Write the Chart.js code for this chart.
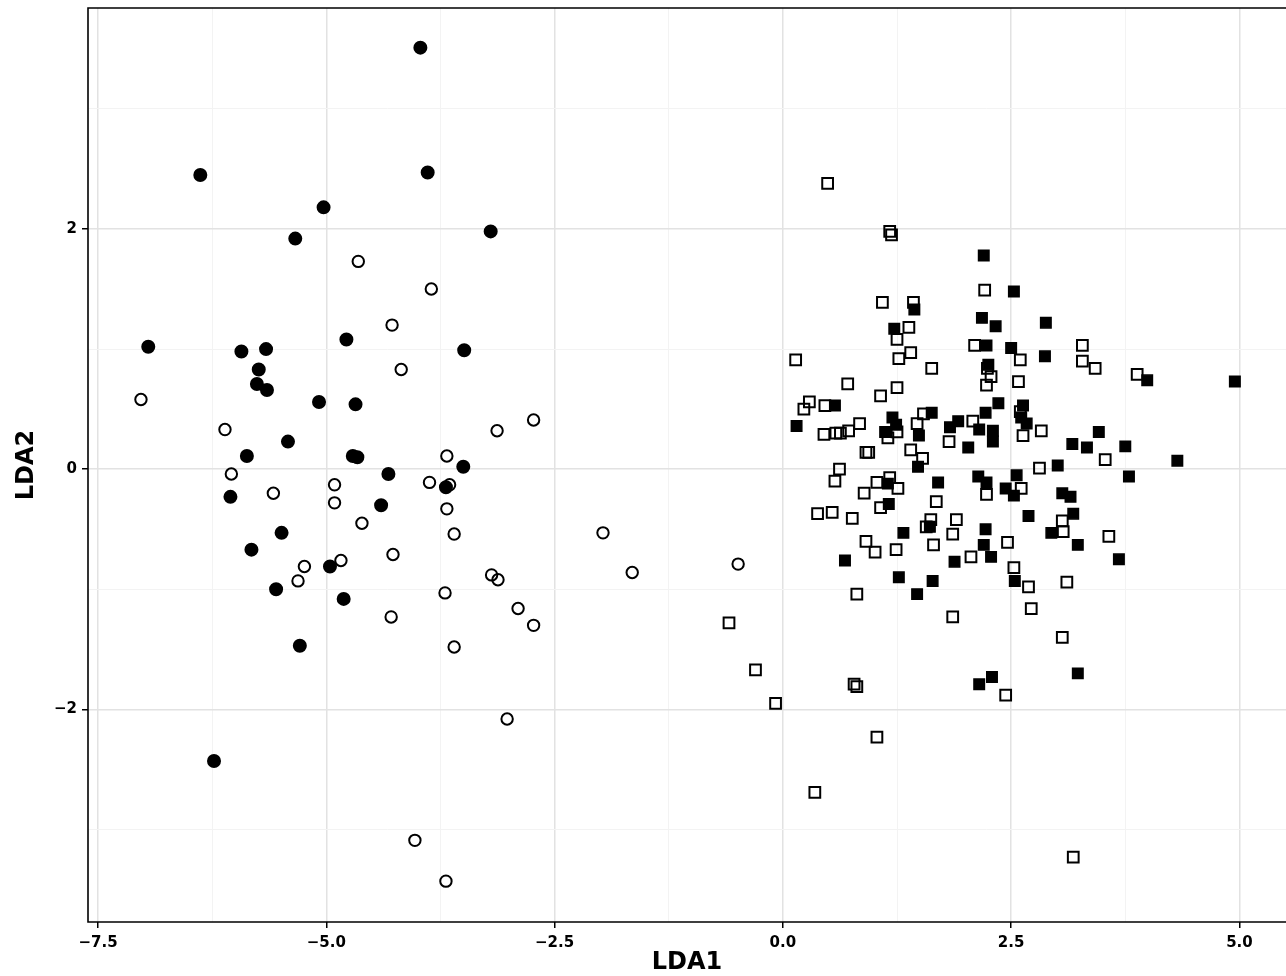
<!DOCTYPE html>
<html>
<head>
<meta charset="utf-8">
<title>LDA scatter</title>
<script src="https://cdn.jsdelivr.net/npm/chart.js@4.4.1/dist/chart.umd.min.js"></script>
<style>
  html, body { margin: 0; padding: 0; background: #ffffff; overflow: hidden; }
  #wrap { width: 1286px; height: 976px; }
  canvas { display: block; }
</style>
</head>
<body>
<div id="wrap"><canvas id="chart" width="1286" height="976"></canvas></div>
<script>
/* ---------- Data (LDA1, LDA2 per group) ---------- */

const filledCircles = [
    [-3.97, 3.51], [-6.38, 2.45], [-3.89, 2.47], [-5.03, 2.18], [-3.20, 1.98],
    [-5.34, 1.92], [-4.78, 1.08], [-6.95, 1.02], [-5.93, 0.98], [-5.66, 1.00],
    [-3.49, 0.99], [-5.74, 0.83], [-5.76, 0.71], [-5.65, 0.66], [-5.08, 0.56],
    [-4.68, 0.54], [-5.42, 0.23], [-5.87, 0.11], [-4.71, 0.11], [-4.66, 0.10],
    [-3.50, 0.02], [-4.32, -0.04], [-3.69, -0.15], [-6.05, -0.23], [-4.40, -0.30],
    [-5.49, -0.53], [-5.82, -0.67], [-4.96, -0.81], [-5.55, -1.00], [-4.81, -1.08],
    [-5.29, -1.47], [-6.23, -2.43]
];

const openCircles = [
    [-4.65, 1.73], [-3.85, 1.50], [-4.28, 1.20], [-4.18, 0.83], [-7.03, 0.58],
    [-2.73, 0.41], [-6.11, 0.33], [-3.13, 0.32], [-3.68, 0.11], [-6.04, -0.04],
    [-4.91, -0.13], [-3.87, -0.11], [-3.65, -0.13], [-5.58, -0.20], [-4.91, -0.28],
    [-3.68, -0.33], [-4.61, -0.45], [-3.60, -0.54], [-4.27, -0.71], [-5.24, -0.81],
    [-4.84, -0.76], [-3.19, -0.88], [-3.12, -0.92], [-5.31, -0.93], [-3.70, -1.03],
    [-2.90, -1.16], [-4.29, -1.23], [-2.73, -1.30], [-3.60, -1.48], [-1.97, -0.53],
    [-1.65, -0.86], [-0.49, -0.79], [-3.02, -2.08], [-4.03, -3.09], [-3.69, -3.43]
];

const filledSquares = [
    [2.20, 1.78], [2.53, 1.48], [1.44, 1.33], [2.18, 1.26], [2.33, 1.19],
    [2.88, 1.22], [1.22, 1.17], [2.23, 1.03], [2.50, 1.01], [2.87, 0.94],
    [2.25, 0.87], [3.99, 0.74], [4.95, 0.73], [2.36, 0.55], [0.57, 0.53],
    [2.63, 0.53], [2.61, 0.43], [2.67, 0.38], [1.63, 0.47], [2.22, 0.47],
    [1.92, 0.40], [1.20, 0.43], [1.24, 0.37], [0.15, 0.36], [1.83, 0.35],
    [3.46, 0.31], [2.15, 0.33], [2.30, 0.32], [1.12, 0.31], [1.49, 0.28],
    [2.30, 0.23], [3.17, 0.21], [3.33, 0.18], [3.75, 0.19], [2.03, 0.18],
    [4.32, 0.07], [1.48, 0.02], [3.01, 0.03], [3.79, -0.06], [2.56, -0.05],
    [2.14, -0.06], [2.23, -0.11], [1.15, -0.12], [1.70, -0.11], [2.44, -0.16],
    [2.53, -0.22], [3.06, -0.20], [3.15, -0.23], [1.16, -0.29], [3.18, -0.37],
    [2.69, -0.39], [1.61, -0.48], [2.22, -0.50], [2.94, -0.53], [1.32, -0.53],
    [2.20, -0.63], [3.23, -0.63], [2.28, -0.73], [1.88, -0.77], [0.68, -0.76],
    [3.68, -0.75], [1.27, -0.90], [1.64, -0.93], [2.54, -0.93], [1.47, -1.04],
    [3.23, -1.70], [2.15, -1.79], [2.29, -1.73]
];

const openSquares = [
    [0.49, 2.38], [1.17, 1.98], [1.19, 1.95], [2.21, 1.49], [1.09, 1.39],
    [1.43, 1.39], [1.38, 1.18], [1.25, 1.08], [3.28, 1.03], [3.28, 0.90],
    [3.42, 0.84], [2.10, 1.03], [1.40, 0.97], [1.27, 0.92], [2.60, 0.91],
    [0.14, 0.91], [1.63, 0.84], [2.24, 0.84], [2.28, 0.77], [2.23, 0.70],
    [2.58, 0.73], [0.71, 0.71], [3.88, 0.79], [1.25, 0.68], [1.07, 0.61],
    [0.29, 0.56], [0.23, 0.50], [0.46, 0.53], [2.60, 0.48], [1.54, 0.46],
    [2.08, 0.40], [1.47, 0.38], [0.84, 0.38], [2.83, 0.32], [0.45, 0.29],
    [0.58, 0.30], [0.63, 0.30], [0.72, 0.32], [1.25, 0.31], [2.63, 0.28],
    [1.15, 0.26], [1.82, 0.23], [1.40, 0.16], [0.91, 0.14], [0.94, 0.14],
    [1.53, 0.09], [3.53, 0.08], [0.62, 0.00], [2.81, 0.01], [1.17, -0.07],
    [1.03, -0.11], [0.57, -0.10], [2.61, -0.16], [1.26, -0.16], [0.89, -0.20],
    [2.23, -0.21], [1.68, -0.27], [1.07, -0.32], [0.38, -0.37], [0.54, -0.36],
    [0.76, -0.41], [1.62, -0.42], [1.90, -0.42], [3.06, -0.43], [1.57, -0.48],
    [3.07, -0.52], [1.86, -0.54], [3.57, -0.56], [0.91, -0.60], [2.46, -0.61],
    [1.65, -0.63], [1.24, -0.67], [1.01, -0.69], [2.06, -0.73], [2.53, -0.82],
    [3.11, -0.94], [2.69, -0.98], [0.81, -1.04], [2.72, -1.16], [1.86, -1.23],
    [3.06, -1.40], [-0.59, -1.28], [-0.30, -1.67], [0.78, -1.79], [0.81, -1.81],
    [2.44, -1.88], [-0.08, -1.95], [1.03, -2.23], [0.35, -2.69], [3.18, -3.23]
];

/* ---------- Axes ---------- */

const xMajorTicks = [-7.5, -5.0, -2.5, 0.0, 2.5, 5.0];
const xMinorTicks = [-6.25, -3.75, -1.25, 1.25, 3.75];
const yMajorTicks = [-2, 0, 2];
const yMinorTicks = [-3, -1, 1, 3];

const xRange = [-7.61, 5.51];
const yRange = [-3.77, 3.84];

/* ---------- Helpers ---------- */

const toPoints = rows => rows.map(([x, y]) => ({ x, y }));

const isMajor = (list, v) => list.some(t => Math.abs(t - v) < 1e-6);

const minus = s => s.replace("-", "\u2212");

const tickFont = { family: "'DejaVu Sans', sans-serif", size: 15, weight: "bold" };
const titleFont = { family: "'DejaVu Sans', sans-serif", size: 24, weight: "bold", lineHeight: 1 };

// panel border (left, top, bottom; the right side runs off the picture)
const frame = {
    id: "frame",
    afterDatasetsDraw(chart) {
        const { ctx, chartArea: a } = chart;
        ctx.save();
        ctx.strokeStyle = "#000000";
        ctx.lineWidth = 1.6;
        ctx.beginPath();
        ctx.moveTo(a.right + 2, a.top);
        ctx.lineTo(a.left, a.top);
        ctx.lineTo(a.left, a.bottom);
        ctx.lineTo(a.right + 2, a.bottom);
        ctx.stroke();
        ctx.restore();
    }
};

function gridFor(majors) {
    return {
        color: c => isMajor(majors, c.tick.value) ? "#e2e2e2" : "#f3f3f3",
        lineWidth: c => isMajor(majors, c.tick.value) ? 1.5 : 1,
        tickColor: c => isMajor(majors, c.tick.value) ? "#000000" : "rgba(0,0,0,0)",
        tickWidth: 1.5,
        tickLength: 6,
        drawTicks: true
    };
}

function fixBox(s, size) {
    if (s.isHorizontal()) s.height = size;
    else s.width = size;
    s.paddingLeft = 0;
    s.paddingRight = 0;
    s.paddingTop = 0;
    s.paddingBottom = 0;
}

/* ---------- Chart ---------- */

new Chart(document.getElementById("chart"), {
    type: "scatter",
    data: {
        datasets: [
            {
                label: "filled circle",
                data: toPoints(filledCircles),
                pointStyle: "circle",
                pointRadius: 6,
                borderWidth: 2,
                borderColor: "#000000",
                backgroundColor: "#000000"
            },
            {
                label: "open circle",
                data: toPoints(openCircles),
                pointStyle: "circle",
                pointRadius: 5.7,
                borderWidth: 2,
                borderColor: "#000000",
                backgroundColor: "rgba(0,0,0,0)"
            },
            {
                label: "open square",
                data: toPoints(openSquares),
                pointStyle: "rect",
                pointRadius: 7.6,
                borderWidth: 2,
                borderColor: "#000000",
                backgroundColor: "rgba(0,0,0,0)"
            },
            {
                label: "filled square",
                data: toPoints(filledSquares),
                pointStyle: "rect",
                pointRadius: 7.4,
                borderWidth: 1.5,
                borderColor: "#000000",
                backgroundColor: "#000000"
            }
        ]
    },
    options: {
        responsive: false,
        devicePixelRatio: 1,
        animation: false,
        events: [],
        layout: { autoPadding: false, padding: { top: 8, right: 0, bottom: 0, left: 0 } },
        plugins: {
            legend: { display: false },
            tooltip: { enabled: false }
        },
        scales: {
            x: {
                type: "linear",
                min: xRange[0],
                max: xRange[1],
                afterBuildTicks: s => {
                    s.ticks = [...xMajorTicks, ...xMinorTicks].sort((a, b) => a - b).map(v => ({ value: v }));
                },
                afterFit: s => fixBox(s, 54),
                border: { display: false },
                grid: gridFor(xMajorTicks),
                ticks: {
                    autoSkip: false,
                    maxRotation: 0,
                    padding: 6,
                    color: "#000000",
                    font: tickFont,
                    callback: v => isMajor(xMajorTicks, v) ? minus(v.toFixed(1)) : ""
                },
                title: {
                    display: true,
                    text: "LDA1",
                    color: "#000000",
                    font: titleFont,
                    padding: { top: 0, bottom: 1 }
                }
            },
            y: {
                type: "linear",
                min: yRange[0],
                max: yRange[1],
                afterBuildTicks: s => {
                    s.ticks = [...yMajorTicks, ...yMinorTicks].sort((a, b) => a - b).map(v => ({ value: v }));
                },
                afterFit: s => fixBox(s, 88),
                border: { display: false },
                grid: gridFor(yMajorTicks),
                ticks: {
                    autoSkip: false,
                    padding: 5,
                    color: "#000000",
                    font: tickFont,
                    callback: v => isMajor(yMajorTicks, v) ? minus(v.toFixed(0)) : ""
                },
                title: {
                    display: true,
                    text: "LDA2",
                    color: "#000000",
                    font: titleFont,
                    padding: { top: 15, bottom: 0 }
                }
            }
        }
    },
    plugins: [frame]
});
</script>
</body>
</html>
